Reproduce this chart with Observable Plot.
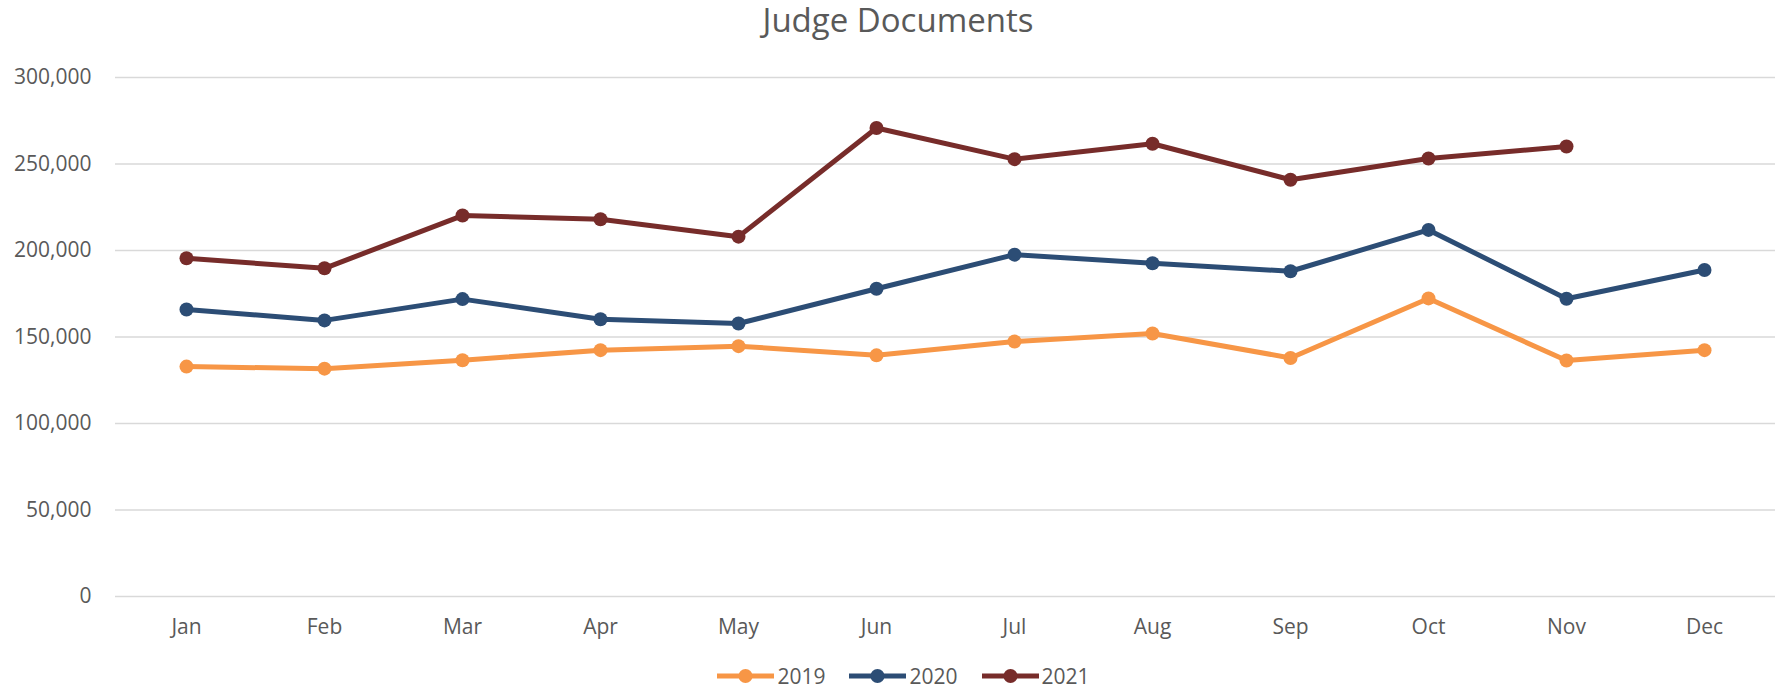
<!DOCTYPE html>
<html>
<head>
<meta charset="utf-8">
<script src="https://cdn.jsdelivr.net/npm/d3@7"></script>
<script src="https://cdn.jsdelivr.net/npm/@observablehq/plot@0.6"></script>
<style>
  body { margin: 0; background: #fff; width: 1779px; height: 690px; overflow: hidden;
         font-family: "Open Sans", sans-serif; color: #595959; }
  #title { height: 45px; line-height: 40px; font-size: 33px; text-align: center; padding-left: 17px; }
  #chart svg { display: block; }
  #legend { box-sizing: border-box; display: flex; justify-content: center; align-items: center; gap: 24px; height: 35px; font-size: 21px; line-height: 26px; padding-left: 28px; padding-top: 7px; }
  .item { display: flex; align-items: center; gap: 3px; }
</style>
</head>
<body>
<div id="title">Judge Documents</div>
<div id="chart"></div>
<div id="legend"></div>
<script>
const months = ["Jan","Feb","Mar","Apr","May","Jun","Jul","Aug","Sep","Oct","Nov","Dec"];
const years = ["2019", "2020", "2021"];
const colors = ["#F79646", "#2C4D75", "#772C2A"];
const v2019 = [132900, 131700, 136600, 142400, 144700, 139400, 147400, 152000, 137900, 172300, 136400, 142400];
const v2020 = [165900, 159600, 171900, 160300, 157800, 177900, 197600, 192600, 188000, 211900, 172100, 188700];
const v2021 = [195500, 189700, 220200, 218100, 208000, 270800, 252800, 261700, 240900, 253200, 260100];
const yTicks = [0, 50000, 100000, 150000, 200000, 250000, 300000];

const series = [v2019, v2020, v2021];
const data = [];
series.forEach((vals, i) => vals.forEach((v, j) => data.push({month: months[j], year: years[i], value: v})));

const fmt = d3.format(",");
const chart = Plot.plot({
  width: 1779,
  height: 610,
  marginLeft: 115,
  marginRight: 4,
  marginTop: 32,
  marginBottom: 59,
  style: {fontSize: "21px", fontFamily: "'Open Sans', sans-serif", color: "#595959", background: "#fff"},
  x: {type: "point", domain: months, padding: 0.5, label: null},
  y: {domain: [0, 300000], label: null},
  color: {domain: years, range: colors},
  marks: [
    Plot.ruleY(yTicks, {stroke: "#D9D9D9", strokeWidth: 1.5}),
    Plot.axisY({ticks: yTicks, tickSize: 0, tickPadding: 24, tickFormat: fmt, label: null}),
    Plot.axisX({tickSize: 0, tickPadding: 23, label: null}),
    Plot.line(data, {x: "month", y: "value", z: "year", stroke: "year", strokeWidth: 5, strokeLinejoin: "round"}),
    Plot.dot(data, {x: "month", y: "value", fill: "year", r: 7, stroke: null})
  ]
});
document.getElementById("chart").appendChild(chart);

const legend = document.getElementById("legend");
years.forEach((y, i) => {
  const item = document.createElement("div");
  item.className = "item";
  item.innerHTML = `<svg width="57" height="16"><line x1="0" y1="8" x2="57" y2="8" stroke="${colors[i]}" stroke-width="5"/><circle cx="28.5" cy="8" r="7" fill="${colors[i]}"/></svg><span>${y}</span>`;
  legend.appendChild(item);
});
</script>
</body>
</html>
